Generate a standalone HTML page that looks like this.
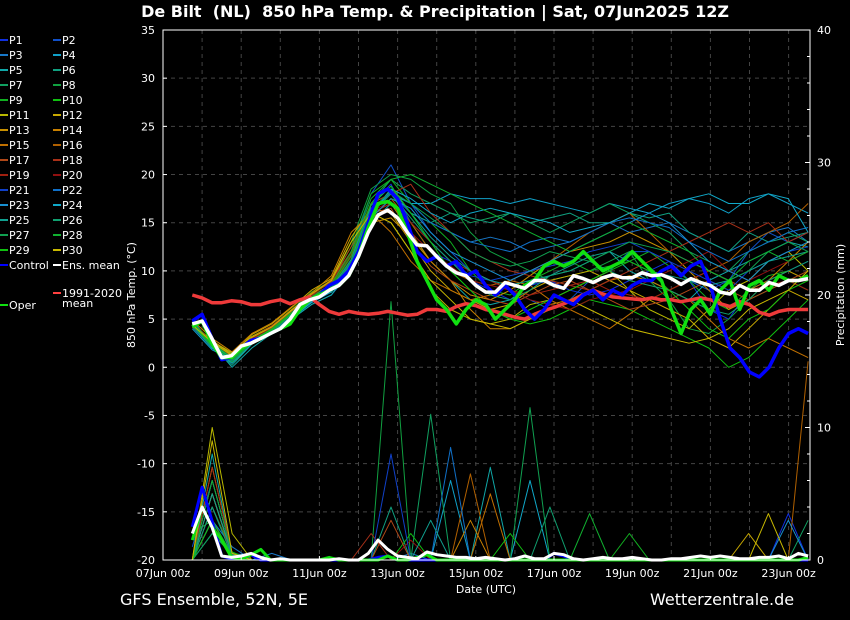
<!DOCTYPE html>
<html><head><meta charset="utf-8"><style>
body{margin:0;background:#000;}
svg{display:block;font-family:"DejaVu Sans","Liberation Sans",sans-serif;}
</style></head><body>
<svg id="chart" width="850" height="620" viewBox="0 0 850 620" xmlns="http://www.w3.org/2000/svg">
<rect x="0" y="0" width="850" height="620" fill="#000"/>
<text x="435" y="17" fill="#fff" font-size="16" font-weight="bold" text-anchor="middle" xml:space="preserve">De Bilt  (NL)  850 hPa Temp. &amp; Precipitation | Sat, 07Jun2025 12Z</text>
<g id="grid"></g>
<g id="series"></g>
<g id="axes"></g>
<g id="legend"></g>
<text transform="translate(135,295) rotate(-90)" fill="#fff" font-size="11" text-anchor="middle">850 hPa Temp. (°C)</text>
<text transform="translate(844,295) rotate(-90)" fill="#fff" font-size="11" text-anchor="middle">Precipitation (mm)</text>
<text x="486" y="593" fill="#fff" font-size="11" text-anchor="middle">Date (UTC)</text>
<text x="120" y="605" fill="#fff" font-size="16">GFS Ensemble, 52N, 5E</text>
<text x="650" y="605" fill="#fff" font-size="16">Wetterzentrale.de</text>
</svg>
<script>
const xTickLabels = ["07Jun 00z","09Jun 00z","11Jun 00z","13Jun 00z","15Jun 00z","17Jun 00z","19Jun 00z","21Jun 00z","23Jun 00z"];
const tempTicks = [35,30,25,20,15,10,5,0,-5,-10,-15,-20];
const precipTicks = [40,30,20,10,0];
const memberColors = ["#1030e0","#1050c8","#1878c8","#10a0c8","#10a8a8","#10a080","#10a060","#10a040","#10b020","#10c010","#b8b800","#c8a800","#c89000","#c88000","#c07000","#b06000","#b04818","#a83018","#a02010","#901010","#1040c8","#1070c8","#1890d0","#10a8c8","#10a090","#10a070","#10a050","#10b030","#10c010","#c8b800"];
const memberTemp = [
[4.8,2,1,2.7,3.5,5,7,8.2,11,17,19,15,12,11,9,8,7,8.5,9,8,7.5,8,9,10,11,9,6,5,8,9,10,11],
[4.5,2.5,1.2,3,4,5.5,7.5,8,12,18,21,17,14,12,10,9,8,7,6,7,9,10,12,12,11,9,8,9,12,14,13,14],
[4.2,2,0.5,2.5,3.5,5,6.5,7.5,10,16,18.5,16,15,14,13,13.5,13,12,12.5,13,14,15,14,14.5,15,14,13,12,13,14,14.5,13],
[4,1.8,0.8,2.5,3.8,5.2,7,8,11,16.5,18,17,17,18,17.5,17.5,17,17.5,17,16.5,16,17,16.5,16,17,17.5,17,16,17.5,18,17,16],
[4.6,2.4,0,2,3.5,5,6.5,7.5,10.5,15,17,14,11,9,7,6.5,7,8.5,9.5,10,11,12,10,9,8,7,9,10,11,12,13,12.5],
[5,2.2,0.2,2.4,3.6,5.3,7,7.8,11,16,18,16,15,16,15.5,15,16,15,15.5,16,15,15,16,15.5,16,14,13,12,14,13,13.5,14],
[4.4,2,0.6,2.6,3.9,5.6,7.1,8.5,12,17,19.5,18,17,16,15,15.5,16,15,14,15,16,17,16,15,14,12,11,10,12,13,14,13],
[4.3,2.6,1.4,2.9,4,5.8,7.6,8.8,13,18.5,20,19.5,18,17,14,12,11,10,9,9.5,10,11,12,9,7,4,3.5,5,7,8,9,8],
[4.7,2.3,1,2.8,4.2,6,7.8,9,12.5,18,19.5,17,15,13,10,8,7.5,9,10,11,10,10.5,11,12,10.5,9,7,6,8,9.5,10,9],
[4.5,2.1,0.9,2.6,3.7,5.4,7.2,8.3,11.5,17,18,15,12,10,8,6,5,4.5,5,6,7,6.5,6,5,4,3,2,0,1,3,5,7],
[4.6,2.7,1.5,3.2,4.3,6,7.5,9,13,16,15,12,8,6,5,4.5,5,6.5,7,8,9,10,8,6,5,4,6,8,9,11,12,10],
[4.4,2.8,1.3,3.4,4.5,6.2,8,9.2,13.5,16.5,16,13,10,8,7,6,6.5,8,9,9.5,10,9,8,7,6,5,3,2,4,6,8,7],
[4.2,2.5,0.7,3,4.2,5.7,7.4,8.6,12,15,15.5,13.5,11,9,7.5,7,8,9.5,11,12,12.5,13,14,13,12,10,8,6,7,9,10,9],
[4.9,3,1.6,3.5,4.6,6.3,7.7,9.5,14,16,17,14,11,9,6,4,4,5,6.5,7,8,9,9.5,9,8,9,10,9,8,9,11,13],
[4.5,2.6,1.1,3.1,4.1,5.9,7.6,9.1,13,16,14,11,9,8,7,7.5,9,8.5,7,6,5,4,5.5,7,8,7,5,3,2,3,2,1],
[4.3,2.4,0.8,2.9,4,5.6,7.2,8.7,12,15.5,17.5,15,12,10,9,8.5,9,10,11,12.5,14,15,16,14,12,11,10,11,13,14,15,17],
[4.6,2.6,1,3,4.1,5.8,7.5,8.9,12.5,16,16.5,13,10.5,9,8,7,6.5,7.5,8.5,9,8,7,6,6.5,7,8,9,8,7,8,9,10],
[4.7,2.4,1.2,3.1,4.3,5.9,7.6,9,12,17,18,19,16,14,12,11,10,9.5,9,8.5,8,9,10,11,12,13,14,15,14,15,13,14],
[4.5,2.3,0.9,2.8,3.9,5.5,7.3,8.4,11.5,16,17,15,13,11,10,9,8,7.5,8,8.5,9,8,7.5,7,8,9,10,9,8,8.5,9,8],
[4.4,2.5,1.1,3,4,5.7,7.4,8.5,11.8,16.2,17.2,14,12,10.5,9,8.5,8,7,6.5,6,7,7.5,8,9,10,11,12,10,9,10,11,12],
[4.6,2.2,0.7,2.6,3.8,5.4,7,8.1,11,16.5,18,16,13,11,9.5,9,9.5,10,10.5,11,12,12.5,13,12,11,10,9,8,10,11,12,12.5],
[4.3,2.1,0.8,2.7,3.7,5.3,6.9,8,10.8,16,18.2,17,15,14,13,12.5,12,13,13.5,13,14,15,15.5,15,14.5,13,12,11,12,13,14,14.5],
[4.5,2.3,0.6,2.5,3.6,5.2,6.8,7.9,10.5,15.5,17.5,16.5,14,12,11,10,9,10,11,12,13,14,15,16,15,13,11,10,9,11,12,13],
[4.4,2,0.4,2.4,3.5,5.1,6.7,7.8,10.3,15.8,18.5,17.5,16,15,16,16.5,16,15.5,15,14,14.5,15,16,17,16.5,17.5,18,17,17,18,17.5,14],
[4.7,2.4,0.9,2.7,3.9,5.5,7.1,8.2,11.2,16.8,18.8,16,13.5,11.5,10,9,8.5,9,9.5,10.5,11.5,12,11,10,9.5,9,8.5,9,10,11,11.5,12],
[4.5,2.2,0.5,2.5,3.7,5.2,6.9,7.9,10.7,16,18,15.5,13,11,9,7.5,7,8,9.5,10,11,10,9,8.5,8,7,6,5.5,7,9,10,11],
[4.3,2.1,0.6,2.6,3.8,5.4,7,8.1,11,16.3,18.3,17,15.5,14,12,11,10.5,11,12,11.5,11,12,13,12.5,12,11,10,9,10,12,13,12],
[4.6,2.5,1,2.8,4,5.7,7.3,8.6,12,17.5,19.5,20,19,18,17,16,15,14,13,12,13,14,15,14,13,12,10,9,11,12,11,12],
[4.5,2.3,0.8,2.7,3.9,5.6,7.2,8.4,11.6,17,18.8,16,13,10,8,6,5,6,7,8,9,10,11,10,8,6,4,3,5,6,8,9],
[4.4,2.6,1.2,3.1,4.2,5.9,7.6,9,13,16,15,12,9,7,5,4.5,4,5,6,7,6,5,4,3.5,3,2.5,3,4,6,7,8,10]
];
const memberPrecip = [
[0,4,0.5,0,0,0,0,0,0,0,0,0,0,0,0,0,0,0,0,0,0,0,0,0,0,0,0,0,0,0,3.5,0],
[1,6,0.5,0.3,0,0,0,0,0,0,0,0,0,0,0,0,0,0,0,0,0,0,0,0,0,0,0,0,0,0,0,0],
[0,3,1,0,0.5,0,0,0,0,0,0,0.5,0,0,0,0,0,0,0,0,0,0,0,0,0,0,0,0,0,0,0,0],
[0,5,0.5,0,0,0,0,0,0,0,0,0,0,6,0,0,0,0,0,0,0,0,0,0,0,0,0,0,0,0,0,0],
[0,8,0.3,0.5,0,0,0,0,0,0,0,0,0,0,0,7,0,0,0,0,0,0,0,0,0,0,0,0,0,0,0,0],
[0,3,0.2,0,0,0,0,0,0,0,4,0,0,0,0,0,0,0,0,0,0,0,0,0,0,0,0,0,0,0,0,0],
[0,2,0.5,0,0,0,0,0,0,0,0,0,11,0,0,0,0,0,0,0,0,0,0,0,0,0,0,0,0,0,0,3],
[0,5,0.3,0,0,0,0,0,0,0,19.5,0,0,0,0,0,0,0,0,0,0,0,0,0,0,0,0,0,0,0,0,0],
[2,3,0.4,0,0,0,0,0,0,0,0,0,0,0,0,0,0,0,0,0,0,0,2,0,0,0,0,0,0,0,0,0],
[0,4,0.6,0,0,0,0,0,0,0,0,2,0,0,0,0,0,0,0,0,0,0,0,0,0,0,0,0,0,0,0,0],
[0,10,2,0,0,0,0,0,0,0,0,0,0,0,0,0,0,0,0,0,0,0,0,0,0,0,0,0,0,0,0,0],
[0,7,0.5,0,0,0,0,0,0,0,0,0,0,0,0,0,0,0,0,0,0,0,0,0,0,0,0,0,2,0,0,0],
[0,5,0.3,0,0,0,0,0,0,0,0,0,0,0,0,0,0,0,0,0,0,0,0,0,0,0,0,0,0,0,0,0],
[0,6,0.5,0,0,0,0,0,0,0,0,0,0,0,3,0,0,0,0,0,0,0,0,0,0,0,0,0,0,0,0,0],
[0,3,0.2,0,0,0,0,0,0,0,0,0,0,0,0,5,0,0,0,0,0,0,0,0,0,0,0,0,0,0,0,0],
[0,4,0.5,0,0,0,0,0,0,0,0,0,0,0,6.5,0,0,0,0,0,0,0,0,0,0,0,0,0,0,0,0,15],
[0,5,0.4,0,0,0,0,0,0,0,3,0,0,0,0,0,0,0,0,0,0,0,0,0,0,0,0,0,0,0,0,0],
[0,7,0.5,0,0,0,0,0,0,2,0,0,0,0,0,0,0,0,0,0,0,0,0,0,0,0,0,0,0,0,0,0],
[0,3,0.3,0,0,0,0,0,0,0,0,0,0,0,0,0,0,0,0,0,0,0,0,0,0,0,0,0,0,0,0,0],
[0,4,0.4,0,0,0,0,0,0,0,0,1.5,0,0,0,0,0,0,0,0,0,0,0,0,0,0,0,0,0,0,0,0],
[0,6,0.5,0,0,0,0,0,0,0,8,0,0,0,0,0,0,0,0,0,0,0,0,0,0,0,0,0,0,0,0,0],
[0,4,0.3,0,0,0,0,0,0,0,0,0,0,8.5,0,0,0,0,0,0,0,0,0,0,0,0,0,0,0,0,0,0],
[0,2,0.5,0,0,0,0,0,0,0,0,0,0,0,0,0,0,0,0,0,0,0,0,0,0,0,0,0,0,0,3,0],
[0,3,0.3,0,0,0,0,0,0,0,0,0,0,0,0,0,0,6,0,0,0,0,0,0,0,0,0,0,0,0,0,0],
[0,5,0.4,0,0,0,0,0,0,0,0,0,3,0,0,0,0,0,0,0,0,0,0,0,0,0,0,0,0,0,0,0],
[0,4,0.3,0,0,0,0,0,0,0,0,0,0,0,0,0,0,0,4,0,0,0,0,0,0,0,0,0,0,0,0,0],
[0,2,0.4,0,0,0,0,0,0,0,0,0,0,0,0,0,0,11.5,0,0,0,0,0,0,0,0,0,0,0,0,0,0],
[0,6,0.5,0,0,0,0,0,0,0,0,0,0,0,0,0,0,0,0,0,3.5,0,0,0,0,0,0,0,0,0,0,0],
[0,3,0.3,0,0,0,0,0,0,0,0,0,0,0,0,0,2,0,0,0,0,0,0,0,0,0,0,0,0,0,0,0],
[0,9,0.5,0,0,0,0,0,0,0,0,0,0,0,0,0,0,0,0,0,0,0,0,0,0,0,0,0,0,3.5,0,0]
];
const meanTemp = [4.5,4.8,3,1,1.2,2.2,2.5,3,3.5,4,5,6.5,7,7.3,8,8.5,9.5,11.5,14,15.8,16.3,15.5,14,12.7,12.6,11.5,10.5,9.8,9.5,8.5,7.8,7.8,8.8,8.5,8.2,9,9,8.5,8.2,9.5,9.2,8.8,9.3,9.6,9.3,9.3,9.8,9.5,9.6,9.2,8.6,9.2,8.8,8.5,7.8,7.6,8.5,8,8,8.8,8.5,9,9,9.2];
const controlTemp = [4.8,5.5,3,0.8,1,2,2.8,3,3.5,4,5,6.5,7,7.5,8.5,9,10,12,15,18,18.5,17.5,15,12,11,11.5,10.5,11,9.5,10,8.5,7.5,8.5,7.5,6,5,6,7.5,7,6.5,7.5,8,7,8,7.5,8.5,9,9,10,10.5,9.5,10.5,11,8.5,5,2,1,-0.5,-1,0,2,3.5,4,3.5];
const operTemp = [4.2,4.8,2.5,1,1,2,2.5,3,3.5,4,4.5,6,7,7.5,8,8.5,9.5,11.5,14.5,17,17.2,16.5,14,11,9,7,6,4.5,6,7,6.5,5,6,7,8.5,9,10.5,11,10.5,11,12,11,10,10.5,11,12,11,10,9,6,3.5,6,7,5.5,8,9,6,8.5,9,8,9.5,9,9,9.5];
const climTemp = [7.5,7.2,6.7,6.7,6.9,6.8,6.5,6.5,6.8,7,6.6,7,7.3,6.5,5.8,5.5,5.8,5.6,5.5,5.6,5.8,5.6,5.4,5.5,6,6,5.8,6.3,6.6,6.4,6,5.8,5.5,5.2,5,5.5,5.9,6.2,6.6,7,7.5,8,7.6,7.3,7.2,7.1,7,7.2,7,7,6.8,7,7.2,7,6.6,6.3,6.8,6.5,5.7,5.4,5.8,6,6,6];
const meanPrecip = [2,4,2.5,0.3,0.2,0.3,0.5,0.2,0,0.1,0,0,0,0,0,0.1,0,0,0.5,1.5,0.8,0.3,0.2,0.1,0.6,0.4,0.3,0.2,0.2,0.1,0.2,0.1,0,0.1,0.3,0.1,0.1,0.5,0.4,0.1,0,0.1,0.2,0.1,0.1,0.2,0.1,0,0,0.1,0.1,0.2,0.3,0.2,0.3,0.2,0.1,0.1,0.2,0.2,0.3,0.1,0.5,0.3];
const controlPrecip = [2.5,5.5,3,0.3,0.1,0.2,0.4,0,0,0,0,0,0,0,0,0,0,0,0,0.2,0.3,0,0,0,0,0,0,0,0,0,0,0,0,0,0,0,0,0.5,0.3,0,0,0,0,0,0,0,0,0,0,0,0,0,0,0,0,0,0,0,0,0,0,0,0,0];
const operPrecip = [1.5,4,2.5,1.5,0.2,0.1,0.4,0.8,0,0,0,0,0,0,0.2,0,0,0,0,0,0.3,0,0,0.2,0.4,0,0,0,0,0,0,0,0,0,0,0,0,0,0,0,0,0,0,0,0,0,0,0,0,0,0,0,0,0,0,0,0,0,0,0,0,0,0,0.2];

// axis functions
const PL=163, PR=810, PT=30, PB=560, DAYPX=39.1;
function xDay(d){return PL+d*DAYPX;}
function yT(t){return PB-(t+20)*(PB-PT)/55;}
function yP(p){return PB-p*(PB-PT)/40;}
const NS="http://www.w3.org/2000/svg";
function mk(tag,parent){const e=document.createElementNS(NS,tag);parent.appendChild(e);return e;}
const grid=document.getElementById('grid'), series=document.getElementById('series'), axes=document.getElementById('axes'), legend=document.getElementById('legend');

// grid
for(let d=1; d<=16; d++){
  const l=mk('line',grid);
  
  
  l.setAttribute('x1',xDay(d));l.setAttribute('x2',xDay(d));l.setAttribute('y1',PT);l.setAttribute('y2',PB);
  l.setAttribute('stroke','#444');l.setAttribute('stroke-dasharray','4,4');
}
tempTicks.forEach(t=>{
  if(t===35||t===-20) return;
  const l=mk('line',grid);
  
  
  l.setAttribute('x1',PL);l.setAttribute('x2',PR);l.setAttribute('y1',yT(t));l.setAttribute('y2',yT(t));
  l.setAttribute('stroke','#444');l.setAttribute('stroke-dasharray','4,4');
});

function path(vals, x0, step, yf){
  return vals.map((v,i)=>(i?'L':'M')+xDay(x0+i*step).toFixed(1)+','+yf(v).toFixed(1)).join(' ');
}
function drawLine(d,color,w,name){
  const p=mk('path',series);
  
  
  p.setAttribute('d',d);p.setAttribute('fill','none');p.setAttribute('stroke',color);p.setAttribute('stroke-width',w);
  p.setAttribute('stroke-linejoin','round');
}
const MSTEP=15.75/31;
memberTemp.forEach((arr,k)=>{
  drawLine(path(arr,0.75,MSTEP,yT),memberColors[k],1,'member-temp-line');
});
memberPrecip.forEach((arr,k)=>{
  drawLine(path(arr,0.75,MSTEP,yP),memberColors[k],1,'member-precip-line');
});
drawLine(path(climTemp,0.75,0.25,yT),'#ee3a3a',3.5,'climatology-line');
drawLine(path(controlTemp,0.75,0.25,yT),'#0000ff',3.5,'control-temp-line');
drawLine(path(controlPrecip,0.75,0.25,yP),'#0000ff',3,'control-precip-line');
drawLine(path(operTemp,0.75,0.25,yT),'#10e010',3.5,'oper-temp-line');
drawLine(path(operPrecip,0.75,0.25,yP),'#10e010',3,'oper-precip-line');
drawLine(path(meanTemp,0.75,0.25,yT),'#ffffff',3.5,'ens-mean-temp-line');
drawLine(path(meanPrecip,0.75,0.25,yP),'#ffffff',3,'ens-mean-precip-line');

// frame
const fr=mk('rect',axes);


fr.setAttribute('x',PL);fr.setAttribute('y',PT);fr.setAttribute('width',PR-PL);fr.setAttribute('height',PB-PT);
fr.setAttribute('fill','none');fr.setAttribute('stroke','#fff');fr.setAttribute('stroke-width','1');

function txt(parent,x,y,s,anchor,size){
  const t=mk('text',parent);t.setAttribute('x',x);t.setAttribute('y',y);t.setAttribute('fill','#fff');
  t.setAttribute('font-size',size||11);t.setAttribute('text-anchor',anchor||'start');t.textContent=s;return t;
}
tempTicks.forEach(t=>{
  const l=mk('line',axes);
  
  
  l.setAttribute('x1',PL);l.setAttribute('x2',PL+4);l.setAttribute('y1',yT(t));l.setAttribute('y2',yT(t));l.setAttribute('stroke','#fff');
  const e=txt(axes,155,yT(t)+4,String(t),'end');
  
  
});
for(let p=0;p<=40;p+=2){
  const l=mk('line',axes);
  
  
  const len=(p%10===0)?5:3;
  l.setAttribute('x1',PR-len);l.setAttribute('x2',PR);l.setAttribute('y1',yP(p));l.setAttribute('y2',yP(p));l.setAttribute('stroke','#fff');
}
precipTicks.forEach(p=>{
  const e=txt(axes,817,yP(p)+4,String(p),'start');
  
  
});
xTickLabels.forEach((s,i)=>{
  const x=xDay(i*2);
  const l=mk('line',axes);
  
  
  l.setAttribute('x1',x);l.setAttribute('x2',x);l.setAttribute('y1',PB-4);l.setAttribute('y2',PB);l.setAttribute('stroke','#fff');
  const e=txt(axes,x,577,s,'middle');
  
  
});

// legend
for(let k=0;k<30;k++){
  const col=k%2, row=Math.floor(k/2);
  const y=44+row*15, x=col?53:0;
  const g=mk('g',legend);
  
  
  const l=mk('line',g);l.setAttribute('x1',x);l.setAttribute('x2',x+8);l.setAttribute('y1',y-4);l.setAttribute('y2',y-4);
  l.setAttribute('stroke',memberColors[k]);l.setAttribute('stroke-width',2);
  txt(g,x+9,y,'P'+(k+1),'start',11);
}
function legendEntry(x,y,color,label){
  const g=mk('g',legend);
  
  
  const l=mk('line',g);l.setAttribute('x1',x);l.setAttribute('x2',x+8);l.setAttribute('y1',y-4);l.setAttribute('y2',y-4);
  l.setAttribute('stroke',color);l.setAttribute('stroke-width',2);
  txt(g,x+9,y,label,'start',11);
  return g;
}
legendEntry(0,269,'#0000ff','Control');
legendEntry(53,269,'#ffffff','Ens. mean');
const cg=legendEntry(53,297,'#ff4040','1991-2020');
txt(cg,62,307,'mean','start',11);
legendEntry(0,309,'#10e010','Oper');
</script>
</body></html>
